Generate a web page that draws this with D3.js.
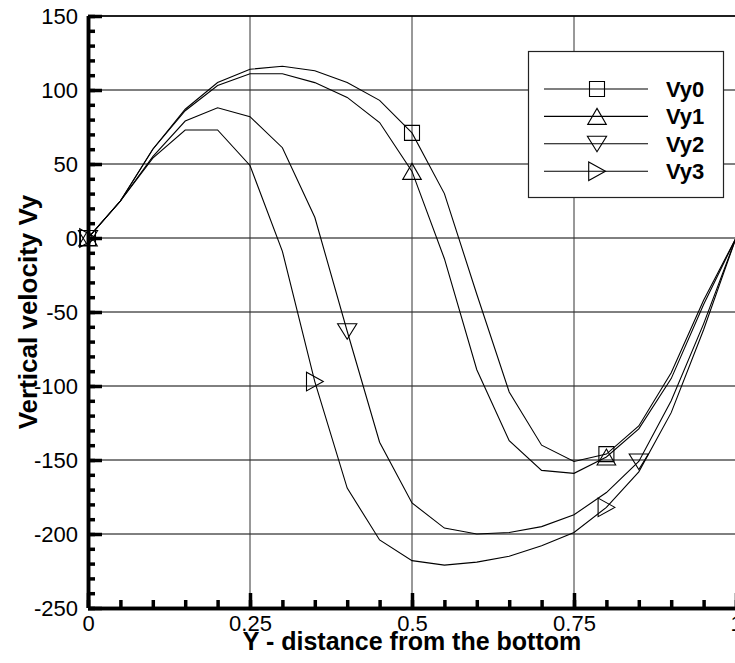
<!DOCTYPE html>
<html>
<head>
<meta charset="utf-8">
<script src="https://cdn.jsdelivr.net/npm/d3@7"></script>
<style>
  body { margin: 0; background: #fff; }
  svg { display: block; }
  svg text { font-family: "Liberation Sans", Arial, sans-serif; }
</style>
</head>
<body>
<div class="canvas"></div>
<script>
// data
const xValues = [0, 0.05, 0.1, 0.15, 0.2, 0.25, 0.3, 0.35, 0.4, 0.45, 0.5, 0.55, 0.6, 0.65, 0.7, 0.75, 0.8, 0.85, 0.9, 0.95, 1];
const vy0 = [0, 25, 60, 87, 105, 114, 116, 113, 105, 93, 71, 30, -38, -104, -140, -151, -146, -127, -91, -42, 0];
const vy1 = [0, 25, 60, 86, 103, 111, 111, 105, 95, 78, 45, -14, -89, -137, -157, -159, -148, -129, -95, -45, 0];
const vy2 = [0, 25, 55, 79, 88, 82, 61, 14, -63, -138, -179, -196, -200, -199, -195, -187, -172, -151, -110, -58, 0];
const vy3 = [0, 25, 54, 73, 73, 49, -9, -97, -169, -204, -218, -221, -219, -215, -208, -199, -182, -158, -118, -62, 0];
const seriesNames = ['Vy0', 'Vy1', 'Vy2', 'Vy3'];
const seriesSymbols = ['square', 'up', 'down', 'right'];
const markerIndex = [[0, 10, 16], [0, 10, 16], [0, 8, 17], [0, 7, 16]];
const xTicks = [0, 0.25, 0.5, 0.75, 1];
const xTickLabels = ['0', '0.25', '0.5', '0.75', '1'];
const yTicks = [150, 100, 50, 0, -50, -100, -150, -200, -250];

const width = 735;
const height = 663;
const margin = {'top': 16, 'right': -1, 'bottom': 55, 'left': 88};
const graphWidth = width - margin.left - margin.right;
const graphHeight = height - margin.top - margin.bottom;

const series = [vy0, vy1, vy2, vy3];

const svg = d3.select('.canvas')
  .append('svg')
  .attr('width', width)
  .attr('height', height);

const graph = svg.append('g')
  .attr('transform', `translate(${margin.left}, ${margin.top})`);

const x = d3.scaleLinear().domain([0, 1]).range([0, graphWidth]);
const y = d3.scaleLinear().domain([-250, 150]).range([graphHeight, 0]);

// grid
graph.append('g')
  .selectAll('line.hgrid')
  .data(yTicks)
  .enter().append('line')
  .attr('x1', 0).attr('x2', graphWidth)
  .attr('y1', d => y(d)).attr('y2', d => y(d))
  .attr('stroke', '#000').attr('stroke-width', 1);
graph.append('g')
  .selectAll('line.vgrid')
  .data(xTicks.slice(1))
  .enter().append('line')
  .attr('x1', d => x(d)).attr('x2', d => x(d))
  .attr('y1', 0).attr('y2', graphHeight)
  .attr('stroke', '#333').attr('stroke-width', 1);

// curves
const line = d3.line()
  .x((d, i) => x(xValues[i]))
  .y(d => y(d));

series.forEach(s => {
  graph.append('path')
    .datum(s)
    .attr('d', line)
    .attr('fill', 'none')
    .attr('stroke', '#000')
    .attr('stroke-width', 1.1);
});

function symbolPath(type) {
  if (type === 'square') return 'M-7.5,-7.5H7.5V7.5H-7.5Z';
  if (type === 'up') return 'M0,-8L9.3,8H-9.3Z';
  if (type === 'down') return 'M0,8L9.6,-7.5H-9.6Z';
  return 'M8.5,0L-8.3,-9.3V9.3Z';
}

series.forEach((s, k) => {
  graph.append('g')
    .selectAll('path')
    .data(markerIndex[k])
    .enter().append('path')
    .attr('transform', i => `translate(${x(xValues[i])},${y(s[i])})`)
    .attr('d', symbolPath(seriesSymbols[k]))
    .attr('fill', 'none')
    .attr('stroke', '#000')
    .attr('stroke-width', 1.1);
});

// axes
const gXAxis = graph.append('g').attr('transform', `translate(0, ${graphHeight})`);
const gYAxis = graph.append('g');

gYAxis.call(d3.axisLeft(y).tickValues(d3.range(-250, 151, 10)).tickSize(-7).tickFormat(''));
gYAxis.call(g => g.append('g').call(d3.axisLeft(y).tickValues(yTicks).tickSize(-14).tickPadding(10).tickFormat(d => d)));
gXAxis.call(d3.axisBottom(x).tickValues(d3.range(0, 1.001, 0.05)).tickSize(-8).tickFormat(''));
gXAxis.call(g => g.append('g').call(d3.axisBottom(x).tickValues(xTicks).tickSize(-15).tickPadding(7).tickFormat((d, i) => xTickLabels[i])));

[gXAxis, gYAxis].forEach(g => {
  g.selectAll('.domain').attr('stroke', '#000').attr('stroke-width', 3.5);
  g.selectAll('.tick line').attr('stroke', '#000').attr('stroke-width', 1.3);
  g.selectAll('g g .tick line').attr('stroke-width', 3.5);
  g.selectAll('text')
    .style('font-size', '22px')
    .attr('fill', '#000');
});
gYAxis.selectAll('.domain').attr('d', `M0.5,${graphHeight}V0`);
gXAxis.selectAll('.domain').attr('d', `M0,0.5H${graphWidth}`);
gYAxis.selectAll('text').attr('dy', '0.36em');
gXAxis.selectAll('text').attr('dy', '0.71em');

// top border
graph.append('line')
  .attr('x1', 0).attr('x2', graphWidth)
  .attr('y1', 0).attr('y2', 0)
  .attr('stroke', '#000').attr('stroke-width', 1.3);

// axis titles
svg.append('text')
  .attr('x', margin.left + graphWidth / 2)
  .attr('y', 650)
  .style('text-anchor', 'middle')
  .style('font-size', '25px')
  .style('font-weight', 'bold')
  .text('Y - distance from the bottom');

svg.append('text')
  .attr('transform', 'rotate(-90)')
  .attr('x', -(margin.top + graphHeight / 2))
  .attr('y', 37)
  .style('text-anchor', 'middle')
  .style('font-size', '26px')
  .style('font-weight', 'bold')
  .text('Vertical velocity Vy');

// legend
const legend = svg.append('g').attr('transform', 'translate(528, 51)');
legend.append('rect')
  .attr('x', 0.5).attr('y', 0.5)
  .attr('width', 195).attr('height', 146)
  .attr('fill', '#fff')
  .attr('stroke', '#222')
  .attr('stroke-width', 1.2);

seriesNames.forEach((name, k) => {
  const row = legend.append('g').attr('transform', `translate(0, ${38 + k * 27.4})`);
  row.append('line')
    .attr('x1', 16).attr('x2', 120)
    .attr('stroke', '#000').attr('stroke-width', 1.1);
  row.append('path')
    .attr('transform', 'translate(69,0)')
    .attr('d', symbolPath(seriesSymbols[k]))
    .attr('fill', 'none')
    .attr('stroke', '#000')
    .attr('stroke-width', 1.1);
  row.append('text')
    .attr('x', 138)
    .attr('dy', '0.36em')
    .style('font-size', '22px')
    .style('font-weight', 'bold')
    .text(name);
});
</script>
</body>
</html>
